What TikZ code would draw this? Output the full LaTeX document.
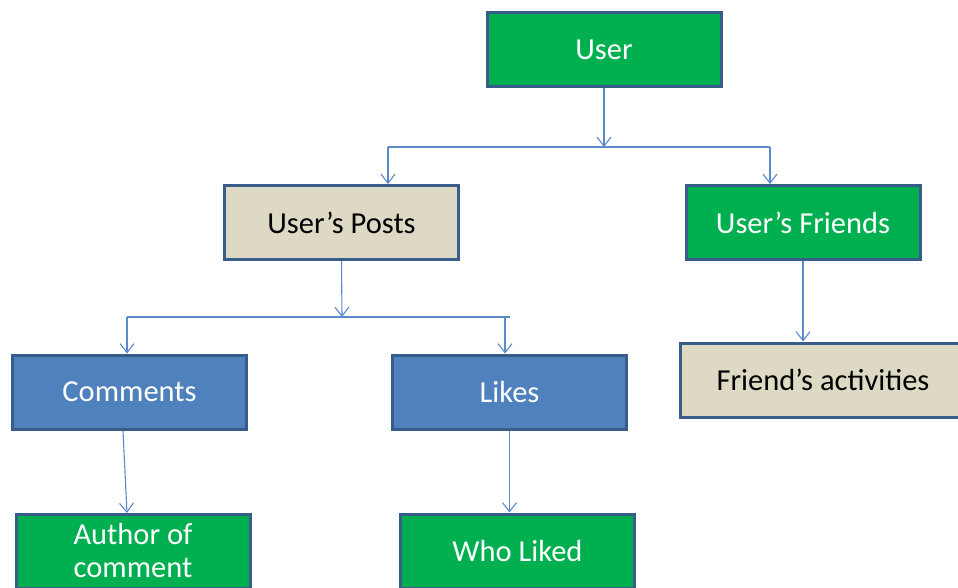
\documentclass[tikz,border=0pt]{standalone}
\usepackage{fontspec}
\setmainfont{Carlito}
\usetikzlibrary{arrows.meta}
\definecolor{bgreen}{HTML}{00B050}
\definecolor{btan}{HTML}{DDD9C4}
\definecolor{bblue}{HTML}{4F81BD}
\definecolor{bborder}{HTML}{385D8A}
\definecolor{lineblue}{HTML}{5B8ACB}
\tikzset{
  box/.style={draw=bborder, line width=3pt, minimum width=234pt, minimum height=74pt, inner sep=0pt, font=\fontsize{30.5}{33}\selectfont, align=center},
  gbox/.style={box, fill=bgreen, text=white},
  tbox/.style={box, fill=btan, text=black},
  bbox/.style={box, fill=bblue, text=white},
  conn/.style={draw=lineblue, line width=1.1pt},
  arr/.style={conn, -{Straight Barb[length=9pt,width=14pt,line width=1.1pt]}},
}
\begin{document}
\begin{tikzpicture}[x=1pt,y=-1pt]
\useasboundingbox (0,0) rectangle (958,588);
\clip (0,0) rectangle (958,588);
\node[gbox] (user) at (604,50) {User};
\node[tbox] (posts) at (341.5,222.5) {User’s Posts};
\node[gbox] (friends) at (803,222.5) {User’s Friends};
\node[bbox] (comments) at (129.5,392) {Comments};
\node[bbox] (likes) at (509.5,392) {Likes};
\node[tbox, minimum width=285pt] (activities) at (823,380) {Friend’s activities};
\node[gbox] (author) at (133,551) {Author of\\comment};
\node[gbox] (wholiked) at (517.5,551) {Who Liked};
% User connectors
\coordinate (j1) at (604,147);
\coordinate (j1l) at (388,147);
\coordinate (j1r) at (770,147);
\draw[arr] (user.south) -- (j1);
\draw[conn] (j1l) -- (j1r);
\draw[arr] (j1l) -- (j1l |- posts.north);
\draw[arr] (j1r) -- (j1r |- friends.north);
% Posts connectors
\coordinate (j2) at (342,317);
\coordinate (j2l) at (127,317);
\coordinate (j2r) at (510,317);
\coordinate (j2d) at (505,317);
\draw[arr] (posts.south) -- (j2);
\draw[conn] (j2l) -- (j2r);
\draw[arr] (j2l) -- (j2l |- comments.north);
\draw[arr] (j2d) -- (j2d |- likes.north);
% Friends
\draw[arr] (friends.south) -- (friends.south |- activities.north);
% Comments / Likes
\coordinate (c1) at (123,431);
\coordinate (c2) at (127,513);
\draw[arr] (c1) -- (c2);
\draw[arr] (likes.south) -- (likes.south |- wholiked.north);
\end{tikzpicture}
\end{document}
